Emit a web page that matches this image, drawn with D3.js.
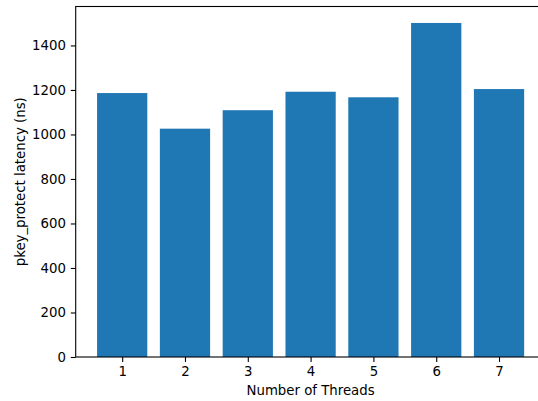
<!DOCTYPE html>
<html><head><meta charset="utf-8">
<script src="https://cdn.jsdelivr.net/npm/d3@7"></script>
<style>html,body{margin:0;padding:0;background:#fff;overflow:hidden}svg{display:block}svg text{font-family:"DejaVu Sans",sans-serif;fill:#000}</style>
</head><body>
<svg id="c" width="538" height="401"></svg>
<script>
const categories = [1, 2, 3, 4, 5, 6, 7];
const latency = [1186, 1026, 1109, 1192, 1167, 1501, 1204];
const yTicks = [0, 200, 400, 600, 800, 1000, 1200, 1400];
const xLabel = "Number of Threads";
const yLabel = "pkey_protect latency (ns)";

const svg = d3.select("#c");
const L = 75.7, R = 545.5, T = 6.5, B = 357;
const x = d3.scaleLinear().domain([0.26, 7.74]).range([L, R]);
const y = d3.scaleLinear().domain([0, 1575]).range([B, T]);
const fs = "13.3px";

svg.selectAll("rect.bar").data(categories).enter().append("rect")
  .attr("class", "bar")
  .attr("x", d => x(d - 0.4)).attr("width", d => x(d + 0.4) - x(d - 0.4))
  .attr("y", (d, i) => y(latency[i])).attr("height", (d, i) => y(0) - y(latency[i]))
  .attr("fill", "#1f77b4");

const xa = svg.append("g").attr("transform", `translate(0,${B})`)
  .call(d3.axisBottom(x).tickValues(categories).tickSize(4.9).tickPadding(4.9).tickFormat(d3.format("d")));
const ya = svg.append("g").attr("transform", `translate(${L},0)`)
  .call(d3.axisLeft(y).tickValues(yTicks).tickSize(4.9).tickPadding(4.9).tickFormat(d3.format("d")));
[xa, ya].forEach(a => {
  a.select(".domain").remove();
  a.selectAll("text").style("font-size", fs).style("font-family", "DejaVu Sans");
  a.selectAll("line").attr("stroke", "#000").attr("stroke-width", 1.1);
});

svg.append("rect").attr("x", L).attr("y", T).attr("width", R - L).attr("height", B - T)
  .attr("fill", "none").attr("stroke", "#000").attr("stroke-width", 1.1);

svg.append("text").attr("x", (L + R) / 2).attr("y", 395).attr("text-anchor", "middle")
  .style("font-size", fs).text(xLabel);
svg.append("text").attr("transform", `translate(25,${(T + B) / 2}) rotate(-90)`)
  .attr("text-anchor", "middle").style("font-size", fs).text(yLabel);
</script>
</body></html>
